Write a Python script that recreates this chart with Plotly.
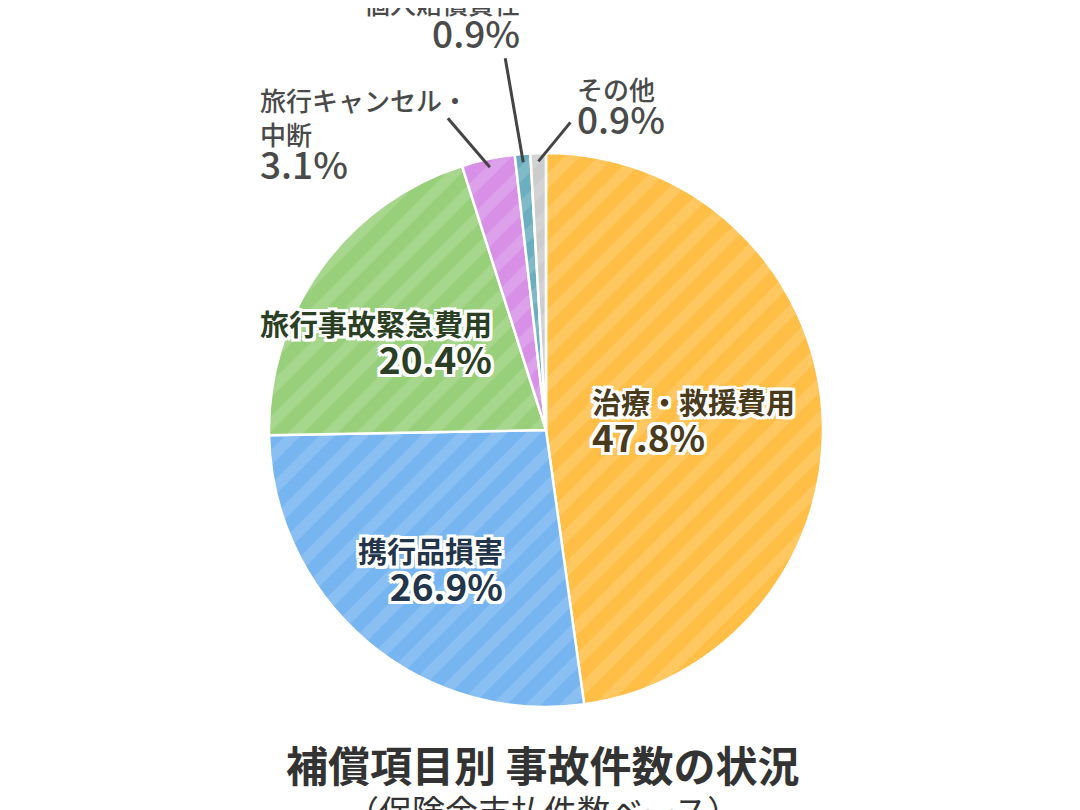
import numpy as np
import plotly.graph_objects as go

# data
labels = ["治療・救援費用", "携行品損害", "旅行事故緊急費用", "旅行キャンセル・中断", "個人賠償責任", "その他"]
label_lines = ["治療・救援費用", "携行品損害", "旅行事故緊急費用", "旅行キャンセル・<br>中断", "個人賠償責任", "その他"]
values = [47.8, 26.9, 20.4, 3.1, 0.9, 0.9]
colors = ["#FFBE45", "#76B5F0", "#98CF7A", "#D790E6", "#6BAEBF", "#CCCCCC"]
text_colors = ["#4A3B1C", "#22354A", "#2B3F24", "#4A4A4A", "#4A4A4A", "#4A4A4A"]
title = "補償項目別 事故件数の状況"
subtitle = "（保険金支払件数ベース）"

W, H = 1080, 810
OFF = 8  # page body margin
cx, cy, R = 546, 430, 277  # in screen pixels

def to_paper(px, py):
    return (px - OFF) / W, 1 - (py - OFF) / H

# slice mid angles (clockwise from 12 o'clock)
v = np.array(values)
cum = np.cumsum(v) - v / 2
mid = cum / v.sum() * 2 * np.pi

def point(i, r):
    return cx + r * R * np.sin(mid[i]), cy - r * R * np.cos(mid[i])

dx0, dy1 = to_paper(cx - R, cy - R)
dx1, dy0 = to_paper(cx + R, cy + R)
fig = go.Figure(go.Pie(
    labels=labels, values=values, sort=False, direction="clockwise", rotation=0,
    textinfo="none", hoverinfo="label+percent",
    marker=dict(colors=colors, line=dict(color="white", width=2.5),
                pattern=dict(shape="/", fillmode="overlay", fgcolor="white",
                             fgopacity=0.14, size=24, solidity=0.45)),
    domain=dict(x=[dx0, dx1], y=[dy0, dy1]),
    showlegend=False,
))

outline = ", ".join(f"{a}px {b}px 0 white" for a in (-3, 0, 3) for b in (-3, 0, 3) if a or b)
annotations = []
shapes = []
FONT = "Noto Sans CJK JP"

# inside labels: (align, edge x, centre y)
inside = {0: ("left", 590, 421), 1: ("right", 505, 570), 2: ("right", 494, 343)}
for i, (al, ex, ey) in inside.items():
    x, y = to_paper(ex, ey)
    annotations.append(dict(
        x=x, y=y, xref="paper", yref="paper", showarrow=False, align=al,
        xanchor=al, yanchor="middle",
        text=f"{label_lines[i]}<br><span style='font-size:37px'>{values[i]:.1f}%</span>",
        font=dict(family=FONT, size=29, color=text_colors[i], weight="bold", shadow=outline),
    ))

# outside labels: (leader dx, dy, xanchor, yanchor, align, xshift, yshift)
outside = {
    3: (-42, -49, "right", "middle", "left", 22, -17),
    4: (-18, -104, "right", "bottom", "right", 17, -3),
    5: (32, -39, "left", "middle", "left", 5, 15),
}
for i, (dx, dy, xa, ya, al, xs, ys) in outside.items():
    px0, py0 = point(i, 0.97)
    px1, py1 = px0 + dx, py0 + dy
    x0, y0 = to_paper(px0, py0)
    x1, y1 = to_paper(px1, py1)
    shapes.append(dict(type="line", xref="paper", yref="paper", x0=x0, y0=y0, x1=x1, y1=y1,
                       line=dict(color="#444444", width=3)))
    annotations.append(dict(
        x=x1, y=y1, xref="paper", yref="paper", showarrow=False, align=al,
        xanchor=xa, yanchor=ya, xshift=xs, yshift=ys,
        text=f"{label_lines[i]}<br><span style='font-size:37px'>{values[i]:.1f}%</span>",
        font=dict(family=FONT, size=26, color=text_colors[i], weight=500),
    ))

tx, ty = to_paper(543, 763)
annotations.append(dict(x=tx, y=ty, xref="paper", yref="paper", showarrow=False,
                        xanchor="center", yanchor="middle",
                        text=title, font=dict(family=FONT, size=42, color="#333333", weight="bold")))
sx, sy = to_paper(543, 810)
annotations.append(dict(x=sx, y=sy, xref="paper", yref="paper", showarrow=False,
                        xanchor="center", yanchor="middle",
                        text=subtitle, font=dict(family=FONT, size=33, color="#333333")))

fig.update_layout(width=W, height=H, margin=dict(l=0, r=0, t=0, b=0),
                  paper_bgcolor="white", plot_bgcolor="white",
                  annotations=annotations, shapes=shapes)

fig.write_html("out.html")
